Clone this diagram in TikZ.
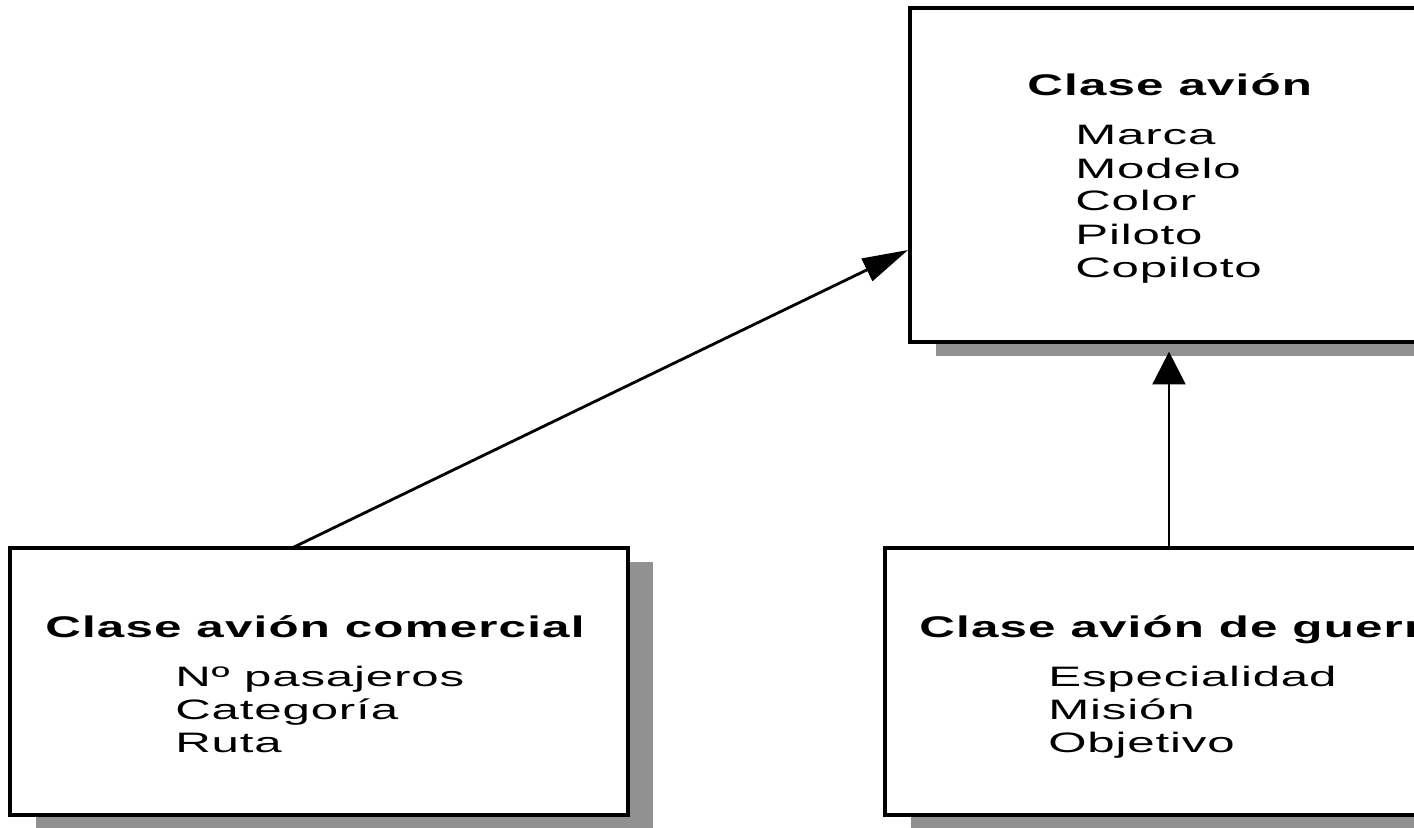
\documentclass[tikz,border=0pt]{standalone}
\usepackage{fontspec}
\newfontfamily\umlfont{Liberation Sans}[FakeStretch=1.75, LetterSpace=3]
\newfontfamily\umltitlefont{Liberation Sans Bold}[FakeStretch=1.65, LetterSpace=4]
\usetikzlibrary{positioning, arrows.meta, shadows}
\definecolor{sombra}{RGB}{145, 145, 145}

\begin{document}
\begin{tikzpicture}[
    x=0.02cm, y=-0.02cm,
    clase/.style={rectangle, draw, fill=white, line width=2pt,
        drop shadow={shadow xshift=14.5pt, shadow yshift=-8pt, fill=sombra, opacity=1}},
    titulo/.style={anchor=base west, inner sep=0pt, font=\umltitlefont\fontsize{17}{20}\selectfont},
    atributo/.style={anchor=base west, inner sep=0pt, font=\umlfont\fontsize{16}{19}\selectfont},
    herencia/.style={line width=1.6pt},
]

% --- frame ---
\useasboundingbox (0,0) rectangle (1414,828);
\clip (0,0) rectangle (1414,828);

% ======= CLASSES =======
\node[clase, minimum width=10.6cm, minimum height=6.68cm] (avion) at (1175,175) {};
\node[clase, minimum width=12.36cm, minimum height=5.34cm] (comercial) at (319,681.5) {};
\node[clase, minimum width=11.1cm, minimum height=5.34cm] (guerra) at (1162.5,681.5) {};

% ======= TITLES =======
\node[titulo] (avion-t) at (1027,96) {Clase avión};
\node[titulo] (comercial-t) at (45,637) {Clase avión comercial};
\node[titulo] (guerra-t) at (919,637) {Clase avión de guerra};

% ======= ATTRIBUTES =======
\foreach \txt [count=\i] in {Marca, Modelo, Color, Piloto, Copiloto} {
    \node[atributo] (avion-\i) at (1075, {145+33*(\i-1)}) {\txt};
}
\foreach \txt [count=\i] in {Nº pasajeros, Categoría, Ruta} {
    \node[atributo] (comercial-\i) at (175, {686+33*(\i-1)}) {\txt};
}
\foreach \txt [count=\i] in {Especialidad, Misión, Objetivo} {
    \node[atributo] (guerra-\i) at (1048, {686+33*(\i-1)}) {\txt};
}

% ======= INHERITANCE =======
\coordinate (comercial-out) at (292,548);
\coordinate (avion-in) at (908,250);
\coordinate (eje) at (1169,0);
\draw[herencia, -{Triangle[length=26pt, width=14pt]}] (comercial-out) -- (avion-in);
\draw[herencia, -{Triangle[length=18.7pt, width=18.7pt]}, shorten >=4.5pt]
    (guerra.north -| eje) -- (avion.south -| eje);

\end{tikzpicture}
\end{document}
